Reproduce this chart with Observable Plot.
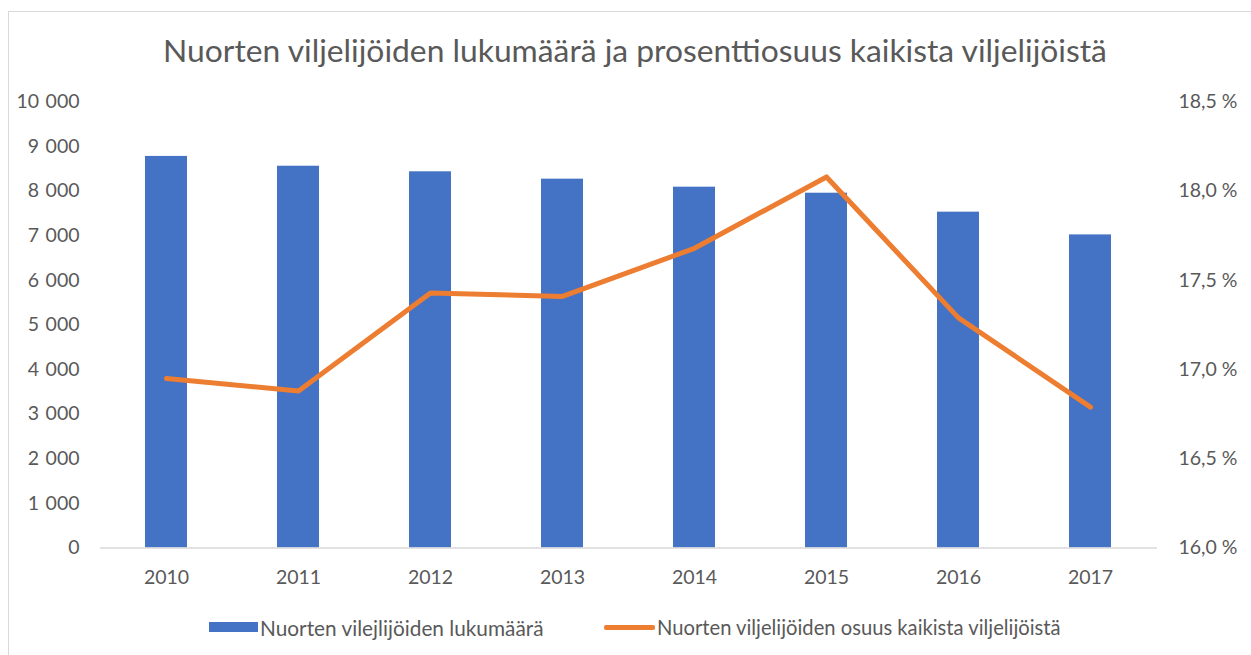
<!DOCTYPE html>
<html>
<head>
<meta charset="utf-8">
<script src="https://cdn.jsdelivr.net/npm/d3@7"></script>
<script src="https://cdn.jsdelivr.net/npm/@observablehq/plot@0.6"></script>
<style>
  html, body { margin: 0; padding: 0; background: #fff; }
  body { width: 1251px; height: 655px; overflow: hidden; position: relative; font-family: Lato, "Open Sans", sans-serif; color: #595959; }
  #frame { position: absolute; left: 8px; top: 11px; width: 1300px; height: 700px; border: 1px solid #D9D9D9; box-sizing: border-box; }
  #title { position: absolute; left: 0; top: 0; width: 1251px; height: 80px; box-sizing: border-box; padding-left: 19px; text-align: center; line-height: 100px; font-size: 31.8px; color: #595959; white-space: nowrap; }
  #chart { position: absolute; left: 0; top: 80px; }
  .leg { position: absolute; top: 612px; height: 30px; display: flex; align-items: center; color: #595959; white-space: nowrap; }
  .sw-bar { width: 49px; height: 10px; background: #4472C4; margin-right: 2px; }
  .sw-line { width: 51px; height: 5px; background: #ED7D31; border-radius: 2px; margin-right: 2px; }
</style>
</head>
<body>
<div id="frame"></div>
<div id="title">Nuorten viljelijöiden lukumäärä ja prosenttiosuus kaikista viljelijöistä</div>
<div id="chart"></div>
<div class="leg" style="left:209px; font-size:20.8px"><div class="sw-bar"></div><span>Nuorten vilejlijöiden lukumäärä</span></div>
<div class="leg" style="left:604px; font-size:20.2px"><div class="sw-line"></div><span>Nuorten viljelijöiden osuus kaikista viljelijöistä</span></div>
<script>
const years = ["2010", "2011", "2012", "2013", "2014", "2015", "2016", "2017"];
const counts = [8780, 8560, 8435, 8270, 8090, 7955, 7530, 7020];
const shares = [16.95, 16.88, 17.43, 17.41, 17.68, 18.08, 17.29, 16.79];
const countTicks = [0, 1000, 2000, 3000, 4000, 5000, 6000, 7000, 8000, 9000, 10000];
const shareTicks = [16.0, 16.5, 17.0, 17.5, 18.0, 18.5];

// secondary axis (16 % – 18.5 %) mapped onto the primary 0 – 10 000 domain
const shareMin = 16.0, shareMax = 18.5, countMax = 10000;
const toCount = p => (p - shareMin) / (shareMax - shareMin) * countMax;

const data = years.map((y, i) => ({year: y, count: counts[i], share: shares[i]}));

const fmtCount = v => d3.format(",")(v).replace(/,/g, "\u2004");
const fmtShare = v => {
  const p = shareMin + v / countMax * (shareMax - shareMin);
  return p.toFixed(1).replace(".", ",") + " %";
};

const chart = Plot.plot({
  width: 1251,
  height: 520,
  marginTop: 21.5,
  marginBottom: 52.5,
  marginLeft: 100,
  marginRight: 94,
  style: {fontFamily: "Lato, 'Open Sans', sans-serif", fontSize: "19.5px", color: "#595959", background: "transparent"},
  x: {domain: years, paddingInner: 0.68, paddingOuter: 0.34, label: null, axis: null},
  y: {domain: [0, countMax], label: null, axis: null},
  marks: [
    Plot.barY(data, {x: "year", y: "count", fill: "#4472C4"}),
    Plot.ruleY([0], {stroke: "#D9D9D9", strokeWidth: 1.5}),
    Plot.line(data, {x: "year", y: d => toCount(d.share), stroke: "#ED7D31", strokeWidth: 5, strokeLinecap: "round", strokeLinejoin: "round"}),
    Plot.axisX({tickSize: 0, tickPadding: 22, label: null}),
    Plot.axisY(countTicks, {anchor: "left", tickSize: 0, tickPadding: 21, tickFormat: fmtCount, label: null}),
    Plot.axisY(shareTicks.map(toCount), {anchor: "right", tickSize: 0, tickPadding: 21, tickFormat: fmtShare, label: null})
  ]
});
document.getElementById("chart").appendChild(chart);
</script>
</body>
</html>
